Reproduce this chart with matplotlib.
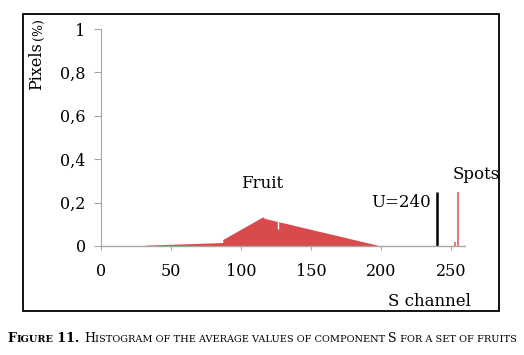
import numpy as np
import matplotlib
matplotlib.use('Agg')
import matplotlib.pyplot as plt
from matplotlib.patches import Rectangle
from matplotlib.offsetbox import TextArea, HPacker, AnchoredOffsetbox

# data
fruit_s = [32, 87, 87, 115.5, 117, 200]
fruit_pix = [0.004, 0.016, 0.03, 0.134, 0.127, 0.0]
notch_s = 126.5
notch_lo, notch_hi = 0.08, 0.125
spots_s = [253, 255]
spots_pix = [0.02, 0.25]
threshold = 240
threshold_h = 0.25
yticks = [0, 0.2, 0.4, 0.6, 0.8, 1]
ytick_labels = ['0', '0,2', '0,4', '0,6', '0,8', '1']
xticks = [0, 50, 100, 150, 200, 250]

serif = 'DejaVu Serif'
red = '#d94a4b'
grey = '#a6a6a6'

fig = plt.figure(figsize=(5.24, 3.55), dpi=100)
fig.patch.set_facecolor('white')

# outer frame
fig.add_artist(Rectangle((23/524, 1-311/355), 476/524, 297/355, transform=fig.transFigure,
                         fill=False, edgecolor='black', lw=1.3))

ax = fig.add_axes([101/524, 1-246/355, 364/524, 217/355])
ax.fill_between(fruit_s, fruit_pix, 0, color=red, lw=0)
ax.vlines(notch_s, notch_lo, notch_hi, color='white', lw=1)
ax.vlines(spots_s, 0, spots_pix, color='#e06060', lw=1.2)
ax.vlines(threshold, 0, threshold_h, color='black', lw=1.8)

ax.set_xlim(0, 260)
ax.set_ylim(0, 1)
for s in ['top', 'right']:
    ax.spines[s].set_visible(False)
ax.spines['left'].set_color(grey)
ax.spines['bottom'].set_color(grey)
ax.spines['left'].set_linewidth(0.8)
ax.spines['bottom'].set_linewidth(1)
ax.set_yticks(yticks)
ax.set_yticklabels(ytick_labels)
ax.set_xticks(xticks)
ax.tick_params(axis='y', length=5, color=grey, pad=6, labelsize=11.5)
ax.tick_params(axis='x', length=3, color=grey, pad=9, labelsize=11.5)
for lab in ax.get_xticklabels() + ax.get_yticklabels():
    lab.set_family(serif)
ax.set_facecolor('none')

ax.text(115, 0.25, 'Fruit', family=serif, fontsize=12, ha='center', va='bottom')
ax.text(235.5, 0.163, 'U=240', family=serif, fontsize=12, ha='right', va='bottom')
ax.text(268, 0.29, 'Spots', family=serif, fontsize=12, ha='center', va='bottom', clip_on=False)
fig.text(429/524, 1-301/355, 'S channel', family=serif, fontsize=12, ha='center', va='center')

# y label: "Pixels" with a smaller "(%)"
fig.text(37/524, 1-66/355, 'Pixels', family=serif, fontsize=11.5, rotation=90, ha='center', va='center')
fig.text(38/524, 1-29/355, '(%)', family=serif, fontsize=9, rotation=90, ha='center', va='center')

# caption in small caps
pieces = [('F', 9, 'bold'), ('IGURE', 7, 'bold'), (' 11. ', 9, 'bold'),
          ('H', 9, 'normal'), ('ISTOGRAM OF THE AVERAGE VALUES OF COMPONENT ', 7, 'normal'),
          ('S', 9, 'normal'), (' FOR A SET OF FRUITS', 7, 'normal')]
boxes = [TextArea(t, textprops=dict(family=serif, fontsize=s, fontweight=w)) for t, s, w in pieces]
cap = HPacker(children=boxes, align='baseline', pad=0, sep=0)
fig.add_artist(AnchoredOffsetbox(loc='center', child=cap, pad=0, frameon=False,
                                 bbox_to_anchor=(262/524, 1-338/355),
                                 bbox_transform=fig.transFigure, borderpad=0))

fig.savefig('out.png', dpi=100)
